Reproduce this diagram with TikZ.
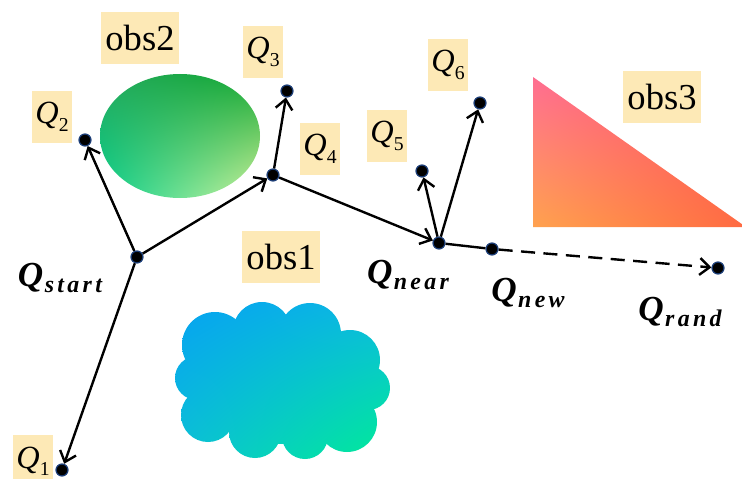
\documentclass[tikz,border=0pt]{standalone}
\usepackage{fontspec}
\setmainfont{Liberation Serif}
\usetikzlibrary{arrows.meta,shadings}

\definecolor{tagbg}{HTML}{FDE9B6}
\definecolor{dotrim}{HTML}{1C3E78}
% ellipse colours
\definecolor{elA}{HTML}{24A85C}
\definecolor{elB}{HTML}{12A832}
\definecolor{elC}{HTML}{0CD08C}
\definecolor{elD}{HTML}{D2F29C}
% triangle colours
\definecolor{trA}{HTML}{FF6E92}
\definecolor{trB}{HTML}{FF4E62}
\definecolor{trC}{HTML}{FFA24E}
\definecolor{trD}{HTML}{FF6A42}
% cloud colours
\definecolor{clA}{HTML}{06A2F2}
\definecolor{clB}{HTML}{0CBAE0}
\definecolor{clC}{HTML}{0CC0D6}
\definecolor{clD}{HTML}{00EC96}

% label helpers: Q with a numeric index, and bold Q with a word index
\newcommand\qnum[1]{\fontsize{23}{23}\selectfont\textit{Q}\raisebox{-0.5ex}{\fontsize{14}{14}\selectfont #1}}
\newcommand\qword[1]{\fontsize{25}{25}\selectfont\bfseries\itshape Q\kern1pt\raisebox{-0.4ex}{\fontsize{17}{17}\selectfont\addfontfeature{LetterSpace=14}#1}}

\begin{document}
\begin{tikzpicture}[x=0.025cm,y=-0.025cm,
  tag/.style={fill=tagbg,inner sep=0pt,minimum width=28pt,minimum height=37pt},
  obstag/.style={fill=tagbg,inner sep=0pt,minimum width=55pt,minimum height=37pt,font=\fontsize{26}{26}\selectfont},
  dot/.style={circle,fill=black,draw=dotrim,line width=0.9pt,inner sep=0pt,minimum size=8.5pt},
  arr/.style={line width=1.7pt,-{Straight Barb[length=7pt,width=12pt,line width=1.7pt]}},
  seg/.style={line width=1.7pt},
  dashedarr/.style={arr,dash pattern=on 10pt off 6pt}]

\useasboundingbox (0,0) rectangle (742,479);

% obstacle 2: ellipse
\shade[upper left=elA,upper right=elB,lower left=elC,lower right=elD]
  (180,136) ellipse [x radius=80,y radius=62];

% obstacle 3: right triangle
\shade[upper left=trA,upper right=trB,lower left=trC,lower right=trD]
  (533,77) -- (533,227) -- (746,227) -- cycle;

% obstacle 1: cloud, one common shading shown through each disc
\foreach \cx/\cy/\r in {282/382/62, 215/345/33, 262/331/29, 310/334/31,
    350/360/30, 368/388/22, 347/422/30, 305/436/23, 255/432/26,
    208/415/27, 197/378/22, 225/380/32, 340/390/32} {
  \begin{scope}
    \clip (\cx,\cy) circle (\r);
    \shade[upper left=clA,upper right=clB,lower left=clC,lower right=clD]
      (175,302) rectangle (390,459);
  \end{scope}
}

% label tags
\node[tag] (t1) at (33,461) {\qnum{1}};
\node[tag] (t2) at (52,117) {\qnum{2}};
\node[tag] (t3) at (263,52) {\qnum{3}};
\node[tag] (t4) at (320,149) {\qnum{4}};
\node[tag] (t5) at (387,136) {\qnum{5}};
\node[tag] (t6) at (448,65) {\qnum{6}};
\node[obstag] (o1) at (281,257) {obs1};
\node[obstag] (o2) at (140,38) {obs2};
\node[obstag] (o3) at (662,97) {obs3};

% tree vertices
\node[dot] (qs) at (137,257) {};
\node[dot] (q1) at (62,470) {};
\node[dot] (q2) at (85,140) {};
\node[dot] (q3) at (287,91) {};
\node[dot] (q4) at (273,175) {};
\node[dot] (qn) at (439,243) {};
\node[dot] (q5) at (422,171) {};
\node[dot] (q6) at (480,103) {};
\node[dot] (qw) at (492,249) {};
\node[dot] (qr) at (718,268) {};

% vertex names
\node (ls) at (60,278) {\qword{start}};
\node (ln) at (408,275) {\qword{near}};
\node (lw) at (528,293) {\qword{new}};
\node (lr) at (680,312) {\qword{rand}};

% tree edges
\draw[arr] (qs) -- (q1);
\draw[arr] (qs) -- (q2);
\draw[arr] (qs) -- (q4);
\draw[arr] (q4) -- (q3);
\draw[arr] (q4) -- (qn);
\draw[arr] (qn) -- (q5);
\draw[arr] (qn) -- (q6);
\draw[seg] (qn) -- (qw);
\draw[dashedarr] (qw) -- (qr);

\end{tikzpicture}
\end{document}
